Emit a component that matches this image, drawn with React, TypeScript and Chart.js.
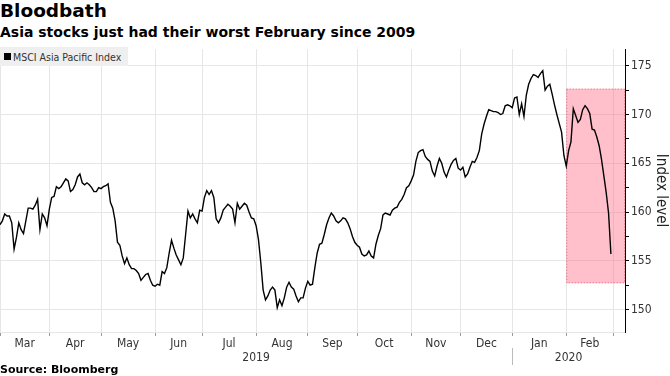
import React, { useEffect, useRef } from 'react';
import { Chart, registerables } from 'chart.js';

Chart.register(...registerables);

const titleText = 'Bloodbath';
const subtitleText = 'Asia stocks just had their worst February since 2009';
const seriesLabel = 'MSCI Asia Pacific Index';
const sourceText = 'Source: Bloomberg';
const axisTitle = 'Index level';

// One close per weekday, 1 Mar 2019 .. 28 Feb 2020
const indexValues = [
  158.7, 159.1, 159.8, 159.6, 159.6, 158.9, 156.2, 157.4, 158.9, 158.2,
  157.8, 159.1, 160.4, 160.4, 160.3, 160.7, 161.3, 158.2, 159.8, 159.4,
  158.6, 160.3, 161.5, 161.6, 162.6, 162.4, 162.6, 163.0, 163.4, 163.2,
  162.1, 162.3, 162.8, 163.6, 163.9, 163.0, 162.8, 163.0, 162.8, 162.5,
  162.1, 162.1, 162.5, 162.4, 162.6, 162.7, 162.9, 161.0, 160.4, 159.1,
  156.9, 156.6, 155.5, 154.7, 155.3, 154.6, 154.2, 154.2, 154.0, 153.7,
  153.0, 153.3, 153.6, 153.7, 153.0, 152.5, 152.4, 152.6, 152.5, 153.9,
  153.7, 154.3, 155.8, 157.1, 156.3, 155.6, 155.1, 154.6, 155.3, 157.7,
  160.1, 159.4, 159.8, 159.3, 158.9, 160.2, 160.1, 161.5, 162.2, 161.8,
  162.2, 161.5, 159.3, 158.9, 159.4, 160.2, 160.5, 160.8, 160.6, 160.3,
  158.9, 160.9, 160.3, 160.6, 160.9, 160.7, 160.0, 159.4, 159.3, 158.6,
  157.2, 154.8, 152.0, 151.0, 151.4, 152.0, 152.3, 152.0, 150.2, 151.0,
  150.4, 151.2, 152.3, 152.8, 152.3, 152.1, 151.4, 150.8, 151.2, 151.2,
  152.2, 152.9, 152.5, 152.6, 154.3, 155.8, 156.7, 156.8, 157.7, 158.7,
  159.4, 159.9, 159.6, 159.1, 158.9, 159.1, 159.4, 159.3, 158.9, 158.3,
  157.5, 156.9, 156.6, 156.4, 155.7, 155.5, 155.6, 156.0, 155.5, 155.3,
  156.7, 157.6, 158.3, 159.7, 159.9, 159.8, 159.7, 160.2, 160.4, 160.5,
  161.0, 161.3, 161.8, 162.5, 162.7, 163.2, 163.8, 165.2, 166.1, 166.3,
  166.4, 165.7, 165.4, 165.2, 164.2, 163.7, 164.7, 165.5, 165.0, 164.1,
  163.6, 164.3, 164.9, 165.3, 165.5, 164.5, 164.3, 164.6, 163.6, 163.9,
  164.6, 165.2, 165.1, 165.6, 166.3, 168.0, 169.0, 169.8, 170.5, 170.4,
  170.3, 170.3, 170.2, 170.0, 170.1, 170.9, 171.0, 170.9, 170.7, 171.7,
  171.8, 170.0, 171.1, 169.8, 172.0, 173.1, 173.7, 174.1, 174.0, 173.8,
  174.2, 174.5, 172.5, 172.9, 173.1, 172.1, 171.0, 170.0, 169.1, 168.2,
  165.8, 164.7, 166.3, 167.2, 170.6, 169.9, 169.2, 169.5, 170.5, 170.9,
  170.6, 170.1, 168.5, 168.4, 167.7, 166.8, 165.4, 163.7, 162.0, 159.9,
  155.7,
];

const monthNames = ['Mar', 'Apr', 'May', 'Jun', 'Jul', 'Aug', 'Sep', 'Oct', 'Nov', 'Dec', 'Jan', 'Feb'];
// weekday index at which each month starts (last = start of Mar 2020)
const monthStartDay = [0, 21, 43, 66, 86, 109, 131, 152, 175, 196, 218, 241, 261];
const yearLabels = ['2019', '2020'];
const yearStartDay = [0, 218];
const axisEndDay = 266;

const yMajorTicks = [150, 155, 160, 165, 170, 175];
const yMinorTicks = [152.5, 157.5, 162.5, 167.5, 172.5];
const yMin = 147.7;
const yMax = 176.7;

// February 2020 sell-off highlight: weekday range and index range
const highlightDays = [241, 266];
const highlightRange = [152.7, 172.65];

const FONT = '"DejaVu Sans Condensed", "DejaVu Sans", sans-serif';
const TITLE_FONT = '"DejaVu Sans", sans-serif';
const GRID = '#e6e6e6';

export default function App() {
  const ref = useRef<HTMLCanvasElement>(null);

  useEffect(() => {
    document.body.style.margin = '0';
    const canvas = ref.current!;
    const points = indexValues.map((v, i) => ({ x: i, y: v }));
    const monthMids = monthNames.map((_, k) => (monthStartDay[k] + monthStartDay[k + 1]) / 2);
    const yearMids = yearLabels.map((_, k) => (yearStartDay[k] + (k + 1 < yearStartDay.length ? yearStartDay[k + 1] : axisEndDay)) / 2);

    const highlightPlugin = {
      id: 'febHighlight',
      beforeDatasetsDraw(chart: any) {
        const { ctx, scales } = chart;
        const x = scales.x, y = scales.y;
        const l = x.getPixelForValue(highlightDays[0]);
        const r = x.getPixelForValue(highlightDays[1]);
        const t = y.getPixelForValue(highlightRange[1]);
        const b = y.getPixelForValue(highlightRange[0]);
        ctx.save();
        ctx.fillStyle = 'rgba(255, 105, 130, 0.42)';
        ctx.fillRect(l, t, r - l, b - t);
        ctx.setLineDash([1, 2]);
        ctx.strokeStyle = 'rgba(220, 60, 90, 0.7)';
        ctx.lineWidth = 1;
        ctx.strokeRect(l + 0.5, t + 0.5, r - l - 1, b - t - 1);
        ctx.restore();
      },
    };

    const yearSepPlugin = {
      id: 'yearSep',
      afterDraw(chart: any) {
        const { ctx, scales } = chart;
        const px = Math.round(scales.x.getPixelForValue(yearStartDay[1])) + 0.5;
        const ys = scales.xy;
        ctx.save();
        ctx.strokeStyle = '#bbbbbb';
        ctx.lineWidth = 1;
        ctx.beginPath();
        ctx.moveTo(px, ys.top - 3);
        ctx.lineTo(px, ys.bottom - 3);
        ctx.stroke();
        ctx.restore();
      },
    };

    const chart = new Chart(canvas, {
      type: 'line',
      data: {
        datasets: [
          {
            label: seriesLabel,
            data: points,
            borderColor: '#000',
            borderWidth: 1.4,
            pointRadius: 0,
            tension: 0,
            xAxisID: 'x',
            yAxisID: 'y',
          },
        ],
      },
      options: {
        animation: false,
        responsive: false,
        layout: { padding: { top: 7, left: 0, right: 0, bottom: 0 } },
        plugins: { legend: { display: false }, tooltip: { enabled: false } },
        scales: {
          x: {
            type: 'linear',
            position: 'bottom',
            weight: 0,
            min: 0,
            max: axisEndDay,
            afterBuildTicks: (s: any) => {
              s.ticks = monthStartDay.map((v) => ({ value: v }));
            },
            ticks: { display: false },
            grid: { color: GRID, tickColor: '#999', tickLength: 4, drawTicks: true },
            border: { display: true, color: GRID },
            afterFit: (s: any) => {
              s.height = 4;
            },
          },
          xm: {
            type: 'linear',
            position: 'bottom',
            weight: 1,
            min: 0,
            max: axisEndDay,
            afterBuildTicks: (s: any) => {
              s.ticks = monthMids.map((v) => ({ value: v }));
            },
            ticks: {
              autoSkip: false,
              maxRotation: 0,
              padding: 1,
              color: '#333',
              font: { family: FONT, size: 12 },
              callback: (_v: any, i: number) => monthNames[i],
            },
            grid: { display: false, drawTicks: false },
            border: { display: false },
            afterFit: (s: any) => {
              s.height = 15;
            },
          },
          xy: {
            type: 'linear',
            position: 'bottom',
            weight: 2,
            min: 0,
            max: axisEndDay,
            afterBuildTicks: (s: any) => {
              s.ticks = yearMids.map((v) => ({ value: v }));
            },
            ticks: {
              autoSkip: false,
              maxRotation: 0,
              padding: 0,
              color: '#333',
              font: { family: FONT, size: 12 },
              callback: (_v: any, i: number) => yearLabels[i],
            },
            grid: { display: false, drawTicks: false },
            border: { display: false },
            afterFit: (s: any) => {
              s.height = 17;
            },
          },
          y: {
            type: 'linear',
            position: 'right',
            min: yMin,
            max: yMax,
            afterBuildTicks: (s: any) => {
              s.ticks = [...yMajorTicks, ...yMinorTicks].sort((a, b) => a - b).map((v) => ({ value: v }));
            },
            ticks: {
              padding: 2,
              color: '#333',
              font: { family: FONT, size: 12 },
              callback: (v: any) => (yMajorTicks.includes(v) ? String(v) : ''),
            },
            grid: {
              color: (c: any) => (c.tick && yMajorTicks.includes(c.tick.value) ? GRID : 'rgba(0,0,0,0)'),
              tickColor: '#000',
              tickLength: 4,
              drawTicks: true,
            },
            border: { display: true, color: '#000', width: 1 },
            title: {
              display: true,
              text: axisTitle,
              color: '#222',
              font: { family: FONT, size: 15 },
              padding: { top: 0, bottom: 2 },
            },
            afterFit: (s: any) => {
              s.width = 45;
            },
          },
        },
      } as any,
      plugins: [highlightPlugin, yearSepPlugin],
    });
    return () => chart.destroy();
  }, []);

  return (
    <div style={{ position: 'relative', width: 670, height: 376, background: '#fff', overflow: 'hidden' }}>
      <div
        style={{
          position: 'absolute', left: 0, top: 0, fontFamily: TITLE_FONT, fontWeight: 'bold',
          fontSize: 18.5, lineHeight: '22px', color: '#000', whiteSpace: 'nowrap',
        }}
      >
        {titleText}
      </div>
      <div
        style={{
          position: 'absolute', left: 0, top: 22, fontFamily: TITLE_FONT, fontWeight: 'bold',
          fontSize: 14, lineHeight: '20px', color: '#000', whiteSpace: 'nowrap',
        }}
      >
        {subtitleText}
      </div>
      <div style={{ position: 'absolute', left: 0, top: 40, width: 670, height: 328 }}>
        <canvas ref={ref} width={670} height={328} style={{ display: 'block' }} />
      </div>
      <div
        style={{
          position: 'absolute', left: 0, top: 47, width: 128, height: 19, background: '#efefef',
          display: 'flex', alignItems: 'center', fontFamily: FONT, fontSize: 10.5, color: '#333', whiteSpace: 'nowrap',
        }}
      >
        <span style={{ display: 'inline-block', width: 7, height: 7, background: '#000', marginLeft: 4, marginRight: 2 }} />
        {seriesLabel}
      </div>
      <div
        style={{
          position: 'absolute', left: 0, top: 363, fontFamily: TITLE_FONT, fontWeight: 'bold',
          fontSize: 11, lineHeight: '14px', color: '#000', whiteSpace: 'nowrap',
        }}
      >
        {sourceText}
      </div>
    </div>
  );
}
